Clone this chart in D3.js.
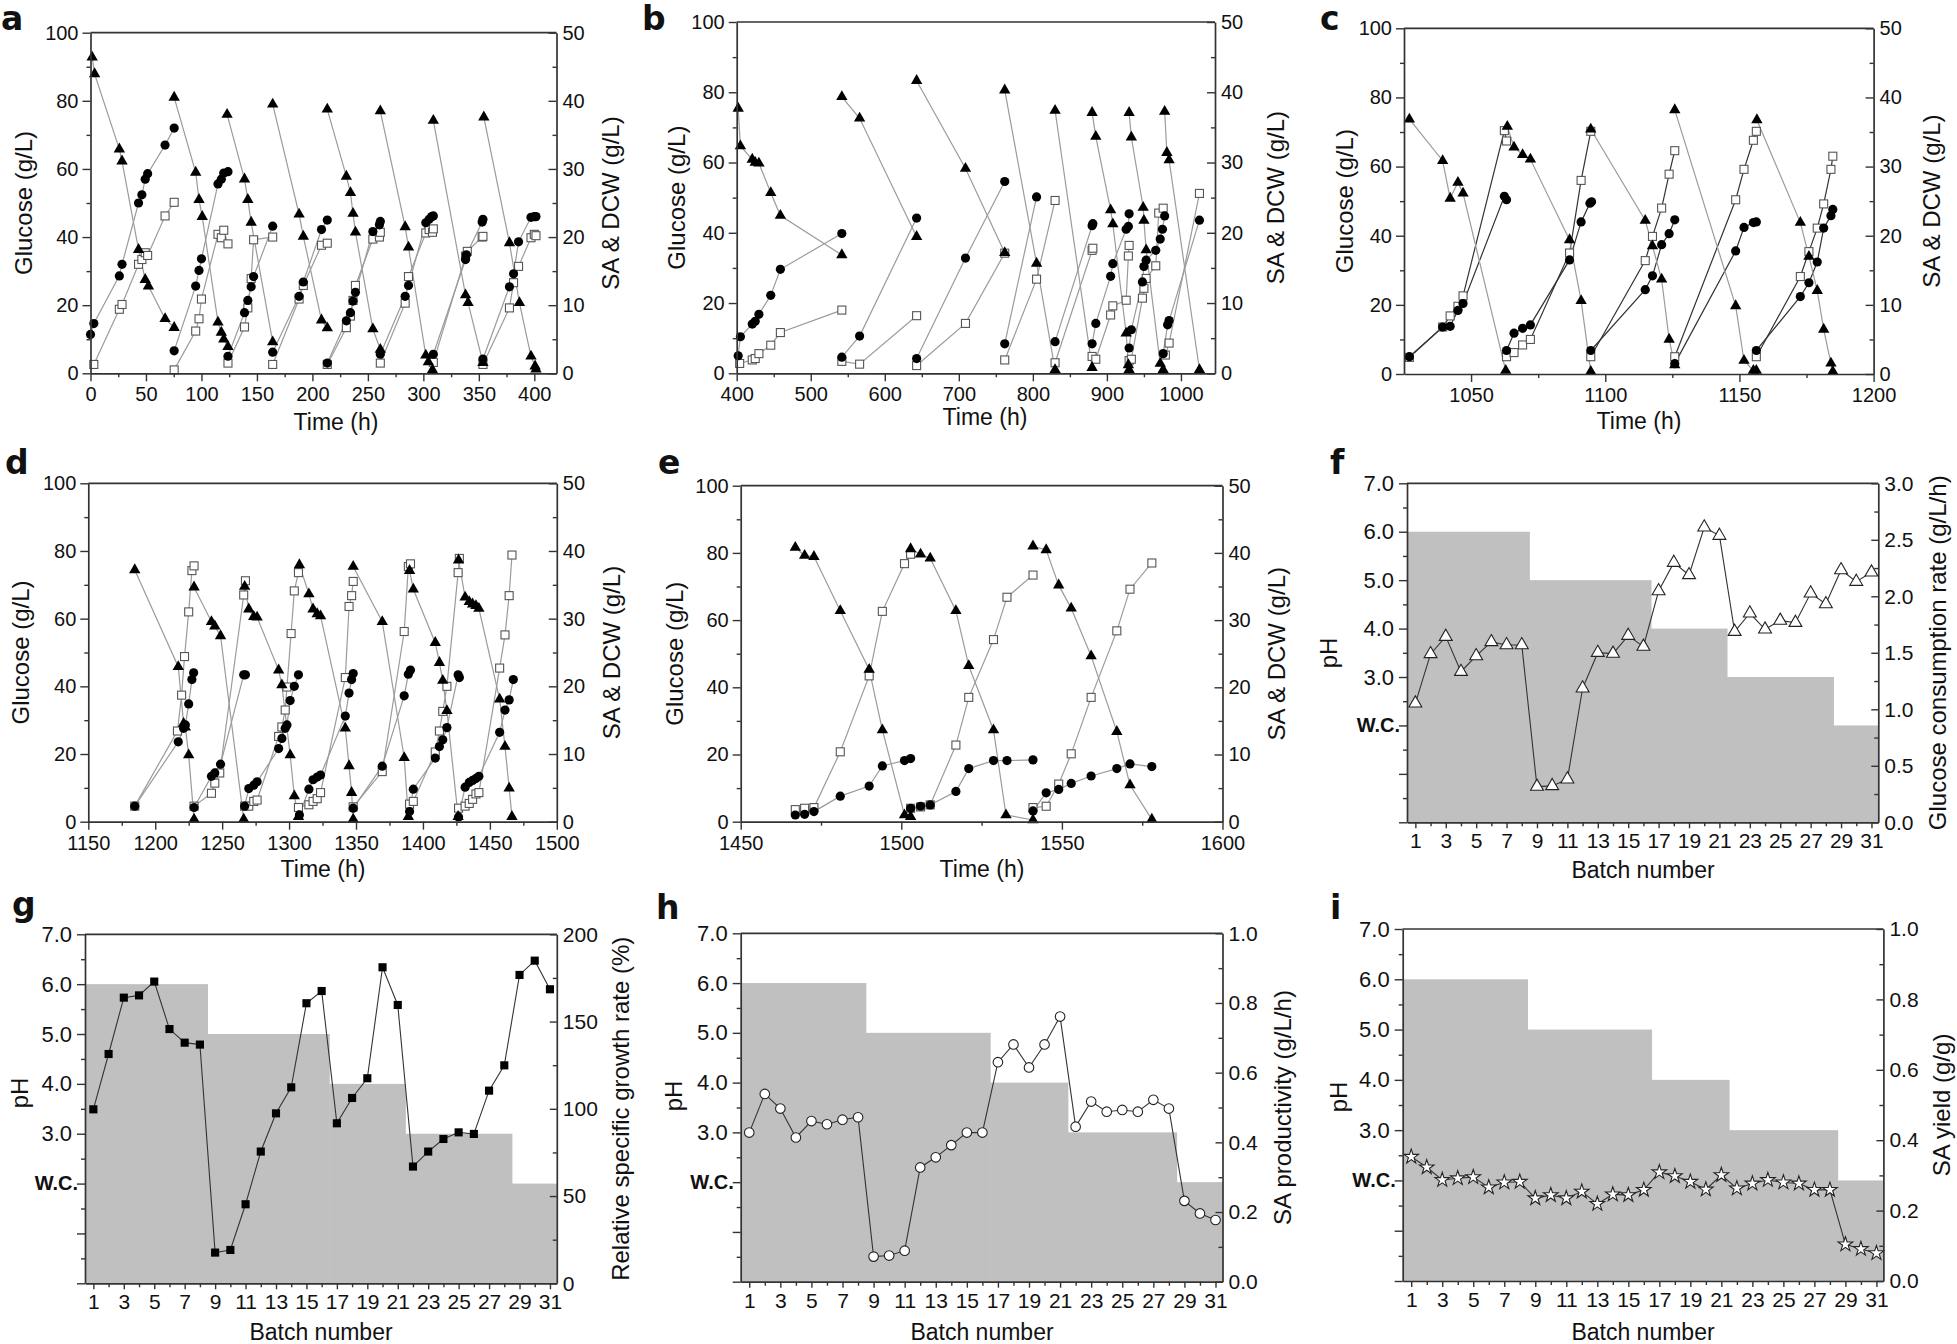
<!DOCTYPE html>
<html><head><meta charset="utf-8">
<script src="https://cdn.jsdelivr.net/npm/d3@7"></script>
<style>
body{margin:0;background:#fff}
svg text{font-family:"Liberation Sans",Arial,Helvetica,sans-serif;fill:#111}
</style></head><body>
<svg id="chart" width="1957" height="1344"></svg>
<script>
// ================= DATA =================
// Panels a–e: [time (h), value] per fed batch. Glucose on left axis, SA & DCW on right axis.
const aGlucose = [
 [[1.5,92.8],[3.7,87.9],[26,65.8],[28.4,62.3],[43.3,36.3],[49.3,27.5],[52.2,25.6],[67.2,16],[75.4,13.4]],
 [[75.4,81],[94.8,59],[97.8,51],[100.7,46],[114.9,15],[117.9,12],[120.1,10],[123.9,7.8]],
 [[123.1,76],[138.8,57],[141.8,51],[144.8,44.3],[164.2,9.2]],
 [[164.2,79],[188,46.7],[191.8,40.2],[208.2,15.6],[213.4,13.3]],
 [[213.4,77.5],[230.6,57.8],[234.3,53],[236.6,46.9],[238.8,41.4],[254.5,13],[261.2,7]],
 [[261.2,77],[283.6,43],[286.6,37],[302.2,5.3],[304.5,3.3],[308.2,1]],
 [[309,74.2],[338,23],[340.3,20.7],[353.7,3.1]],
 [[354.5,75.2],[377.6,38.3],[386.6,20.7],[397,5],[400.7,2.1],[401.5,1.2]]
];
const aSA = [
 [[0,5.7],[3,7.3],[26,14.3],[28.4,16],[43.3,25],[46.3,26.2],[49.3,28.5],[51.5,29.3],[67.2,33.5],[75.4,36]],
 [[75.4,3.3],[94.8,12.8],[97.8,15.1],[100,16.8],[114.9,27.8],[117.9,28.5],[120.1,29.4],[123.9,29.6]],
 [[123.9,2.5],[138.8,8.9],[141.8,10.7],[144.8,12.7],[147,14.2],[164.2,21.6]],
 [[164.2,3.1],[188,11.3],[191.8,13.4],[208.2,21.1],[213.4,22.5]],
 [[213.4,1.5],[230.6,7.7],[234.3,8.9],[236.6,10.6],[238.8,11.9],[254.5,20.8],[260.4,21.8],[261.2,22.3]],
 [[261.2,2.8],[283.6,11.3],[286.6,12.9],[302.2,22.1],[305.2,22.6],[307.5,23],[309,23.1]],
 [[309,2.8],[338,16.7],[338.8,17.4],[353,22.2],[353.7,22.6]],
 [[353.7,2.1],[377.6,12.7],[381.3,14.6],[385.8,19.3],[397,22.9],[400,23],[401.5,23]]
];
const aDCW = [
 [[3,1.3],[26,9.4],[28.4,10.1],[43.3,16],[46.3,16.7],[49.3,17.7],[51.5,17.3],[67.2,23.1],[75.4,25.1]],
 [[75.4,0.5],[94.8,6.2],[97.8,8],[100,10.9],[114.9,20.4],[117.9,19.9],[120.1,21],[123.9,19]],
 [[123.9,1.5],[138.8,6.8],[141.8,9.6],[144.8,13.9],[147,19.6],[164.2,20]],
 [[164.2,1.3],[188,10.9],[191.8,12.9],[208.2,18.8],[213.4,19.1]],
 [[213.4,1.3],[230.6,6.7],[234.3,8.4],[236.6,10.7],[238.8,12.9],[254.5,19.7],[260.4,20],[261.2,20.7]],
 [[261.2,1.5],[283.6,10.3],[286.6,14.2],[302.2,20.6],[305.2,21.1],[308.2,20.7],[309,21.2]],
 [[309,1.6],[338,17.2],[339.6,17.9],[353,20],[353.7,20.1]],
 [[353.7,1.3],[377.6,9.6],[381.3,13.3],[385.8,15.7],[397,19.9],[400,20.4],[401.5,20.2]]
];

const bGlucose = [
 [[402,75.4],[405,64.7],[421,60.9],[425,60],[430,59.8],[446,51.4],[459,44.9],[542,33.7]],
 [[542,78.7],[566,72.6],[643,38.9]],
 [[643,83.3],[709,58.3],[762,34.3]],
 [[762,80.6],[805,31.3],[830,1]],
 [[830,74.8],[880,1.6]],
 [[880,74.2],[885,67.4],[905,46.5],[908,42.5],[926,11.4],[929,2.4],[930,1]],
 [[930,74.2],[933,67.2],[949,47.2],[950,43.5],[953,35.1],[972,2.8],[976,1]],
 [[978,74.5],[981,62.8],[984,60.7],[1025,1]]
];
const bSA = [
 [[402,2.5],[405,5.2],[421,7],[425,7.4],[430,8.4],[446,11.1],[459,14.8],[542,19.9]],
 [[542,2.3],[566,5.3],[643,22.1]],
 [[643,2.1],[709,16.4],[762,27.3]],
 [[762,4.2],[805,25.1]],
 [[830,4.5],[880,21],[881,21.3]],
 [[880,4.2],[885,7.1],[905,13.8],[908,15.6],[926,20.5],[929,20.9],[930,22.7]],
 [[930,3.6],[933,6.2],[948,13],[950,15.2],[953,16.1],[966,17.5],[972,19.1],[975,20.5],[978,22.4]],
 [[976,2.8],[982,6.9],[984,7.5],[1025,21.8]]
];
const bDCW = [
 [[404,1.4],[421,1.9],[425,2.1],[430,2.8],[446,4],[459,5.8],[542,9]],
 [[542,1.7],[566,1.3],[643,8.2]],
 [[643,1.1],[709,7.1],[762,17.1]],
 [[762,1.9],[805,13.4],[830,24.6]],
 [[830,1.5],[880,17.5],[881,17.8]],
 [[880,2.4],[885,2],[905,8.3],[908,9.6],[926,10.4],[929,16.7],[930,18.2]],
 [[930,1.8],[933,2],[948,10.7],[950,12.1],[953,13.5],[966,15.3],[970,22.8],[976,23.5]],
 [[979,2.6],[984,4.3],[1025,25.6]]
];

const cGlucose = [
 [[1027,73.7],[1039.4,61.7],[1042.2,50.8],[1045.1,55.4],[1047,52.3],[1062.9,1]],
 [[1063.5,71.6],[1066,65.6],[1069.2,63.4],[1072.1,62.1],[1086.7,38.8],[1091,21.2],[1094.6,0.7]],
 [[1094.6,70.8],[1114.9,44.4],[1117.6,37],[1121,27.4],[1123.8,10],[1125.9,2.6]],
 [[1125.9,76.4],[1148.6,19.7],[1151.7,3.9],[1155.2,1],[1156.3,1]],
 [[1156.5,73.5],[1172.7,43.8],[1175.9,34],[1179,24.1],[1181.4,12.9],[1184.1,3.1],[1184.8,0.7]]
];
const cSA = [
 [[1027,2.5],[1039.4,6.8],[1042.2,6.9],[1045.1,9.2],[1047,10.2],[1062.4,25.7],[1063.2,25.2]],
 [[1063.2,3.4],[1066,5.9],[1069.2,6.6],[1072.1,7.1],[1086.7,16.5],[1091,22],[1094.3,24.7],[1094.9,24.9]],
 [[1094.6,3.4],[1114.9,12.2],[1117.6,14.2],[1121,18.7],[1123.8,20.3],[1125.9,22.3]],
 [[1125.9,1.5],[1148.6,17.8],[1151.7,21.2],[1155.2,21.9],[1156.3,22]],
 [[1156.3,3.4],[1172.7,11.2],[1175.9,13.2],[1179,16.2],[1181.4,21.1],[1184.1,22.9],[1184.8,23.8]]
];
const cDCW = [
 [[1027,2.4],[1039.4,6.8],[1042.2,8.4],[1045.1,9.8],[1047,11.3],[1062.4,35.2],[1063.2,33.7]],
 [[1063.2,2.5],[1066,3.1],[1069.2,4.2],[1072.1,5],[1086.7,17.5],[1091,28],[1094.6,35.1]],
 [[1094.6,2.5],[1114.9,16.4],[1117.6,19.9],[1121,24],[1123.8,28.9],[1125.9,32.3]],
 [[1125.9,2.5],[1148.6,25.2],[1151.7,29.6],[1155.2,33.8],[1156.3,35.1]],
 [[1156.3,2.5],[1172.7,14.1],[1175.9,17.7],[1179,21.1],[1181.4,24.6],[1184.1,29.6],[1184.8,31.5]]
];

const dGlucose = [
 [[1184.7,74.4],[1217.2,45.8],[1221.2,29],[1222.5,27.9],[1225,19.7],[1229,0.7]],
 [[1229,69.3],[1242,59.1],[1244.5,57.8],[1248.8,54.9],[1266.1,0.7]],
 [[1266.8,69.5],[1269.9,62.8],[1273.6,60.6],[1276.1,60.4],[1292.2,44.8],[1294.6,40.4],[1300.8,19.7],[1303.9,7.6],[1307,1.5]],
 [[1307.7,75.9],[1314.8,67.3],[1317.9,62.8],[1321,61.4],[1323.5,60.8],[1342,27.6],[1344.8,16.5],[1346.7,8.6],[1347.9,0.7]],
 [[1347.9,75.4],[1369.6,59.1],[1386,18.9],[1389.1,1.5]],
 [[1390,74.2],[1392.8,68.7],[1409.2,52.9],[1412.3,47],[1414.8,41.7],[1417.9,32.8],[1426.3,1.5]],
 [[1426.6,77.3],[1431.5,66.3],[1434.6,65],[1437.1,64.3],[1439.6,63.8],[1441.8,63],[1457.3,36.2],[1461.3,22.2],[1464.4,9.9],[1466.5,1.5]]
];
const dSA = [
 [[1184.7,2.3],[1217.2,11.8],[1221.2,13.8],[1222.5,14.3],[1225,17.4],[1227.4,21],[1228.7,22]],
 [[1229,2.1],[1242,6.7],[1244.5,7.2],[1248.8,8.5],[1266.1,21.7],[1267.4,21.7]],
 [[1266.8,2.3],[1269.9,4.9],[1273.6,5.4],[1276.1,5.9],[1292.2,10.8],[1294.6,12.3],[1297.1,13.8],[1298.4,14.3],[1300.8,17.9],[1303.9,20],[1307,21.7]],
 [[1307.7,1],[1314.8,4.8],[1317.9,6.2],[1321,6.6],[1323.5,6.9],[1342,15.6],[1344.8,19],[1346.7,21],[1347.9,21.9]],
 [[1347.9,2],[1369.6,8.2],[1386,18.6],[1389.1,21.8],[1390.7,22.4]],
 [[1390,1.5],[1392.8,4.8],[1409.2,9.4],[1412.3,11.1],[1414.8,12.1],[1417.9,13.9],[1426.3,21.7],[1427.2,21.3]],
 [[1426.6,0.7],[1431.5,5.1],[1434.6,5.8],[1437.1,6.1],[1439.6,6.4],[1441.8,6.7],[1457.3,13.2],[1461.3,16.5],[1464.4,18],[1467.5,21]]
];
const dDCW = [
 [[1184.7,2.3],[1216.6,13.4],[1219.7,18.7],[1221.9,24.4],[1225,31],[1227.4,37.1],[1229,37.8]],
 [[1229,2.3],[1242,4.2],[1244.5,5.7],[1248.2,7.2],[1266.1,33.5],[1267.4,35.6]],
 [[1266.8,2.3],[1269.9,2.3],[1273.6,3],[1276.1,3.2],[1292.2,12.6],[1294.6,14],[1297.1,16.5],[1298.4,19.9],[1301.5,27.8],[1303.9,34.1],[1307,36.8]],
 [[1307,2.1],[1314.8,2.5],[1317.9,3],[1321,3.4],[1323.5,4.3],[1342,21.3],[1344.8,31.8],[1346.7,33.4],[1347.9,35.5]],
 [[1347.9,2.2],[1369.6,7.4],[1386,28.1],[1389.1,37.7],[1390.7,38.1]],
 [[1390,2.6],[1392.8,3],[1409.2,10.3],[1412.3,13.4],[1414.8,16.3],[1417.9,20],[1426.3,36.8],[1427.2,38.9]],
 [[1426.6,2],[1431.5,2.3],[1434.6,2.7],[1437.1,3.3],[1439.6,4.1],[1441.8,4.3],[1457.3,22.7],[1461.3,27.6],[1464.4,33.4],[1466.5,39.4]]
];

const eGlucose = [
 [[1467,81.6],[1469.9,79.2],[1472.8,78.9],[1481,62.8],[1490,45.3],[1494.1,27.3],[1501,2],[1502.9,1.5]],
 [[1502.9,81.2],[1506,79.6],[1509,78.4],[1517,62.8],[1521,46.4],[1528.7,27.3],[1532.6,2],[1541,0.5]],
 [[1541,82],[1545.1,80.9],[1549,70.4],[1552.9,63.5],[1559.1,49.3],[1567.1,26.8],[1571.2,10.9],[1578,0.7]]
];
const eSA = [
 [[1467,1],[1469.9,1.1],[1472.8,1.5],[1481,3.8],[1490,5.3],[1494.1,8.3],[1501,9.1],[1502.9,9.4]],
 [[1502.9,2],[1506,2.3],[1509,2.5],[1517,4.5],[1521,7.9],[1528.7,9.1],[1532.9,9.1],[1541,9.2]],
 [[1541,1.6],[1545.1,4.3],[1549,4.8],[1552.9,5.7],[1559.1,6.8],[1567.1,7.9],[1571.2,8.6],[1578,8.2]]
];
const eDCW = [
 [[1467,1.8],[1469.9,2],[1472.8,2.1],[1481,10.4],[1490,21.7],[1494.1,31.3],[1501,38.4],[1502.9,39.8]],
 [[1502.9,2],[1506,2.2],[1509,2.5],[1517,11.4],[1521,18.5],[1528.7,27.1],[1532.9,33.4],[1541,36.7]],
 [[1541,2.1],[1545.1,2.3],[1549,5.6],[1552.9,10.1],[1559.1,18.5],[1567.1,28.4],[1571.2,34.6],[1578,38.5]]
];

// Panels f–i: per batch number
const batches = [1,2,3,4,5,6,7,8,9,10,11,12,13,14,15,16,17,18,19,20,21,22,23,24,25,26,27,28,29,30,31];
const fGlucoseRate = [1.053,1.49,1.643,1.333,1.472,1.596,1.569,1.569,0.316,0.322,0.381,1.186,1.501,1.493,1.652,1.555,2.047,2.298,2.189,2.611,2.537,1.687,1.85,1.708,1.785,1.767,2.027,1.932,2.233,2.13,2.212];
const gGrowthRate = [99.7,131.4,163.7,165,172.9,145.7,137.9,136.8,17.6,19.1,45.3,75.5,97.4,112.3,160.5,167.5,91.7,106.2,117.5,181.1,159.5,66.9,75.5,82.7,86.5,85.6,110.4,124.9,176.7,184.9,168.5];
const hProductivity = [0.428,0.539,0.497,0.414,0.461,0.452,0.465,0.472,0.072,0.075,0.089,0.328,0.357,0.392,0.428,0.428,0.63,0.681,0.615,0.681,0.761,0.445,0.517,0.488,0.493,0.488,0.522,0.497,0.232,0.196,0.177];
const iYield = [0.353,0.323,0.287,0.292,0.295,0.266,0.28,0.282,0.235,0.244,0.235,0.254,0.219,0.246,0.244,0.259,0.309,0.298,0.282,0.26,0.301,0.263,0.277,0.287,0.28,0.277,0.259,0.259,0.104,0.091,0.079];

// pH stages (background): stage ends at batch boundary, pH value (2 = W.C.)
const stageEnds = [8.5,16.5,21.5,28.5,31.45];
const stagePH = [6,5,4,3,2];
const phTicks = [0,1,2,3,4,5,6,7];
const phTickText = ["","","W.C.","3.0","4.0","5.0","6.0","7.0"];
const phMinor = [0.5,1.5,2.5,3.5,4.5,5.5,6.5];
const batchLabelTicks = [1,3,5,7,9,11,13,15,17,19,21,23,25,27,29,31];
const batchMinorTicks = [2,4,6,8,10,12,14,16,18,20,22,24,26,28,30];

const glucoseTicks = [0,20,40,60,80,100], glucoseMinor = [10,30,50,70,90];
const saTicks = [0,10,20,30,40,50], saMinor = [5,15,25,35,45];

// ================= DRAWING =================
const svg = d3.select("#chart");
const AX = "#333";

function styleAxis(sel, fs){
  sel.select(".domain").attr("stroke",AX).attr("stroke-width",1.7);
  sel.selectAll(".tick line").attr("stroke",AX).attr("stroke-width",1.4);
  sel.selectAll(".tick text").attr("font-size",fs||20).attr("fill","#111")
     .style("font-family",'"Liberation Sans",Arial,sans-serif');
}
function minorAxis(g, axis){ const s=g.append("g").call(axis.tickFormat("")); styleAxis(s); s.select(".domain").remove(); return s;}

function panelLetter(txt, x, y){
  svg.append("text").attr("x",x).attr("y",y).text(txt)
    .style("font-family",'"DejaVu Sans",Arial,sans-serif').attr("font-weight","bold").attr("font-size",33).attr("fill","#000");
}
function rotTitle(txt, x, y){
  svg.append("text").attr("transform",`translate(${x},${y}) rotate(-90)`)
    .attr("text-anchor","middle").attr("dominant-baseline","central")
    .attr("font-size",24).text(txt);
}
function xTitle(txt,x,y){
  svg.append("text").attr("x",x).attr("y",y).attr("text-anchor","middle").attr("font-size",23).text(txt);
}

function timePanel(p, glu, sa, dcw){
  const g = svg.append("g");
  const x = d3.scaleLinear().domain(p.xdom).range([p.l,p.r]);
  const yL = d3.scaleLinear().domain([0,100]).range([p.b,p.t]);
  const yR = d3.scaleLinear().domain([0,50]).range([p.b,p.t]);
  const lineL = d3.line().x(d=>x(d[0])).y(d=>yL(d[1]));
  const lineR = d3.line().x(d=>x(d[0])).y(d=>yR(d[1]));
  const grey = "#9b9b9b";
  const darkC = p.dark ? "#333" : grey;
  g.selectAll(null).data(dcw).join("path").attr("d",lineR).attr("fill","none").attr("stroke",darkC).attr("stroke-width",1.2);
  g.selectAll(null).data(sa).join("path").attr("d",lineR).attr("fill","none").attr("stroke",darkC).attr("stroke-width",1.2);
  g.selectAll(null).data(glu).join("path").attr("d",lineL).attr("fill","none").attr("stroke",grey).attr("stroke-width",1.2);
  const sq = 8;
  g.selectAll(null).data(dcw.flat()).join("rect")
    .attr("x",d=>x(d[0])-sq/2).attr("y",d=>yR(d[1])-sq/2).attr("width",sq).attr("height",sq)
    .attr("fill","#fff").attr("stroke","#555").attr("stroke-width",1.1);
  g.selectAll(null).data(sa.flat()).join("circle")
    .attr("cx",d=>x(d[0])).attr("cy",d=>yR(d[1])).attr("r",4.6).attr("fill","#000");
  const tri = d3.symbol().type(d3.symbolTriangle).size(56);
  g.selectAll(null).data(glu.flat()).join("path").attr("d",tri)
    .attr("transform",d=>`translate(${x(d[0])},${yL(d[1])})`).attr("fill","#000");

  // axes
  minorAxis(g.append("g").attr("transform",`translate(0,${p.b})`), d3.axisBottom(x).tickValues(p.xMinor).tickSize(4).tickSizeOuter(0));
  const xa = g.append("g").attr("transform",`translate(0,${p.b})`).call(d3.axisBottom(x).tickValues(p.xMajor).tickSize(8).tickSizeOuter(0).tickPadding(6).tickFormat(d3.format("d")));
  styleAxis(xa);
  minorAxis(g.append("g").attr("transform",`translate(${p.l},0)`), d3.axisLeft(yL).tickValues(glucoseMinor).tickSize(4));
  const ya = g.append("g").attr("transform",`translate(${p.l},0)`).call(d3.axisLeft(yL).tickValues(glucoseTicks).tickSize(8).tickSizeOuter(0).tickPadding(4).tickFormat(d3.format("d")));
  styleAxis(ya);
  minorAxis(g.append("g").attr("transform",`translate(${p.r},0)`), d3.axisRight(yR).tickValues(saMinor).tickSize(-4));
  const yr = g.append("g").attr("transform",`translate(${p.r},0)`).call(d3.axisRight(yR).tickValues(saTicks).tickSize(-8).tickSizeOuter(0).tickPadding(6).tickFormat(d3.format("d")));
  styleAxis(yr);
  g.append("line").attr("x1",p.l).attr("x2",p.r).attr("y1",p.t).attr("y2",p.t).attr("stroke",AX).attr("stroke-width",1.7);

  panelLetter(p.letter, p.lx, p.ly);
  rotTitle("Glucose (g/L)", p.ytl, (p.t+p.b)/2);
  rotTitle("SA & DCW (g/L)", p.ytr, (p.t+p.b)/2);
  xTitle("Time (h)", p.xtx, p.xty);
}

function batchPanel(p, vals, rDomain, rTicks, rMinor, rFmt, marker){
  const g = svg.append("g");
  const x = d3.scaleLinear().domain([0.45,31.45]).range([p.l,p.r]);
  const yP = d3.scaleLinear().domain([0,7]).range([p.b,p.t]);
  const yR = d3.scaleLinear().domain(rDomain).range([p.b,p.t]);
  // pH stage background
  const stages = stagePH.map((ph,i)=>({x0: i===0 ? x.domain()[0] : stageEnds[i-1], x1: Math.min(stageEnds[i], x.domain()[1]), ph}));
  g.selectAll(null).data(stages).join("rect")
    .attr("x",d=>x(d.x0)).attr("width",d=>x(d.x1)-x(d.x0)+0.5)
    .attr("y",d=>yP(d.ph)).attr("height",d=>p.b-yP(d.ph)).attr("fill","#c0c0c0");
  const pts = batches.map((b,i)=>[b, vals[i]]);
  g.append("path").datum(pts).attr("d",d3.line().x(d=>x(d[0])).y(d=>yR(d[1])))
    .attr("fill","none").attr("stroke","#333").attr("stroke-width",1.1);
  const m = g.selectAll(null).data(pts).join("path")
    .attr("transform",d=>`translate(${x(d[0])},${yR(d[1])})`);
  if(marker==="tri") m.attr("d",d3.symbol().type(d3.symbolTriangle).size(72)).attr("fill","#fff").attr("stroke","#222").attr("stroke-width",1.1);
  if(marker==="sq") m.attr("d",d3.symbol().type(d3.symbolSquare).size(66)).attr("fill","#000");
  if(marker==="circ") m.attr("d",d3.symbol().type(d3.symbolCircle).size(72)).attr("fill","#fff").attr("stroke","#222").attr("stroke-width",1.1);
  if(marker==="star") m.attr("d",d3.symbol().type(d3.symbolStar).size(66)).attr("fill","#fff").attr("stroke","#222").attr("stroke-width",1.1);

  minorAxis(g.append("g").attr("transform",`translate(0,${p.b})`), d3.axisBottom(x).tickValues(batchMinorTicks).tickSize(4).tickSizeOuter(0));
  const xa = g.append("g").attr("transform",`translate(0,${p.b})`).call(d3.axisBottom(x).tickValues(batchLabelTicks).tickSize(6).tickSizeOuter(0).tickPadding(5).tickFormat(d3.format("d")));
  styleAxis(xa, 21);
  minorAxis(g.append("g").attr("transform",`translate(${p.l},0)`), d3.axisLeft(yP).tickValues(phMinor).tickSize(4));
  const ya = g.append("g").attr("transform",`translate(${p.l},0)`).call(d3.axisLeft(yP).tickValues(phTicks).tickSize(8).tickSizeOuter(0).tickPadding(5).tickFormat((d,i)=>phTickText[i]));
  styleAxis(ya, 22);
  ya.selectAll(".tick text").filter(d=>d===2).attr("font-weight","bold").attr("font-size",20).attr("dx",6);
  minorAxis(g.append("g").attr("transform",`translate(${p.r},0)`), d3.axisRight(yR).tickValues(rMinor).tickSize(-4));
  const yr = g.append("g").attr("transform",`translate(${p.r},0)`).call(d3.axisRight(yR).tickValues(rTicks).tickSize(-7).tickSizeOuter(0).tickPadding(6).tickFormat(rFmt));
  styleAxis(yr, 21);
  g.append("line").attr("x1",p.l).attr("x2",p.r).attr("y1",p.t).attr("y2",p.t).attr("stroke",AX).attr("stroke-width",1.7);

  panelLetter(p.letter, p.lx, p.ly);
  rotTitle("pH", p.ytl, p.ytly);
  rotTitle(p.rTitle, p.ytr, (p.t+p.b)/2);
  xTitle("Batch number", p.xtx, p.xty);
}

timePanel({letter:"a",lx:1,ly:30,l:90.5,r:556.5,t:32.7,b:373.3,xdom:[0,420],
  xMajor:[0,50,100,150,200,250,300,350,400],xMinor:[25,75,125,175,225,275,325,375],
  ytl:23,ytr:610,xtx:336,xty:430}, aGlucose,aSA,aDCW);
timePanel({letter:"b",lx:642,ly:30,l:736.7,r:1215,t:22,b:373.3,xdom:[400,1046],
  xMajor:[400,500,600,700,800,900,1000],xMinor:[450,550,650,750,850,950],
  ytl:676,ytr:1275,xtx:985,xty:425}, bGlucose,bSA,bDCW);
timePanel({letter:"c",lx:1320,ly:30,l:1404,r:1873.6,t:28.3,b:374,xdom:[1025,1200],dark:true,
  xMajor:[1050,1100,1150,1200],xMinor:[1075,1125,1175],
  ytl:1344,ytr:1931,xtx:1639,xty:429}, cGlucose,cSA,cDCW);
timePanel({letter:"d",lx:5,ly:474,l:88.3,r:556.8,t:483.3,b:821.7,xdom:[1150,1500],
  xMajor:[1150,1200,1250,1300,1350,1400,1450,1500],xMinor:[1175,1225,1275,1325,1375,1425,1475],
  ytl:20,ytr:611,xtx:323,xty:877}, dGlucose,dSA,dDCW);
timePanel({letter:"e",lx:658,ly:474,l:740.7,r:1222.5,t:485.7,b:821.7,xdom:[1450,1600],
  xMajor:[1450,1500,1550,1600],xMinor:[1475,1525,1575],
  ytl:674,ytr:1276,xtx:982,xty:877}, eGlucose,eSA,eDCW);

const f1 = d3.format(".1f");
batchPanel({letter:"f",lx:1330,ly:474,l:1407,r:1878.3,t:483.3,b:822.3,ytl:1328,ytly:653,ytr:1937,xtx:1643,xty:878,
  rTitle:"Glucose consumption rate (g/L/h)"}, fGlucoseRate,[0,3],[0,0.5,1,1.5,2,2.5,3],[0.25,0.75,1.25,1.75,2.25,2.75],f1,"tri");
batchPanel({letter:"g",lx:12,ly:916,l:85,r:556.8,t:934.3,b:1283.3,ytl:19,ytly:1093,ytr:620,xtx:321,xty:1340,
  rTitle:"Relative specific growth rate (%)"}, gGrowthRate,[0,200],[0,50,100,150,200],[25,75,125,175],d3.format("d"),"sq");
batchPanel({letter:"h",lx:656,ly:919,l:740.7,r:1222.5,t:933.3,b:1281.7,ytl:673,ytly:1096,ytr:1282,xtx:982,xty:1340,
  rTitle:"SA productivity (g/L/h)"}, hProductivity,[0,1],[0,0.2,0.4,0.6,0.8,1],[0.1,0.3,0.5,0.7,0.9],f1,"circ");
batchPanel({letter:"i",lx:1330,ly:919,l:1402.7,r:1883.4,t:929,b:1281,ytl:1338,ytly:1097,ytr:1941,xtx:1643,xty:1340,
  rTitle:"SA yield (g/g)"}, iYield,[0,1],[0,0.2,0.4,0.6,0.8,1],[0.1,0.3,0.5,0.7,0.9],f1,"star");
</script></body></html>
